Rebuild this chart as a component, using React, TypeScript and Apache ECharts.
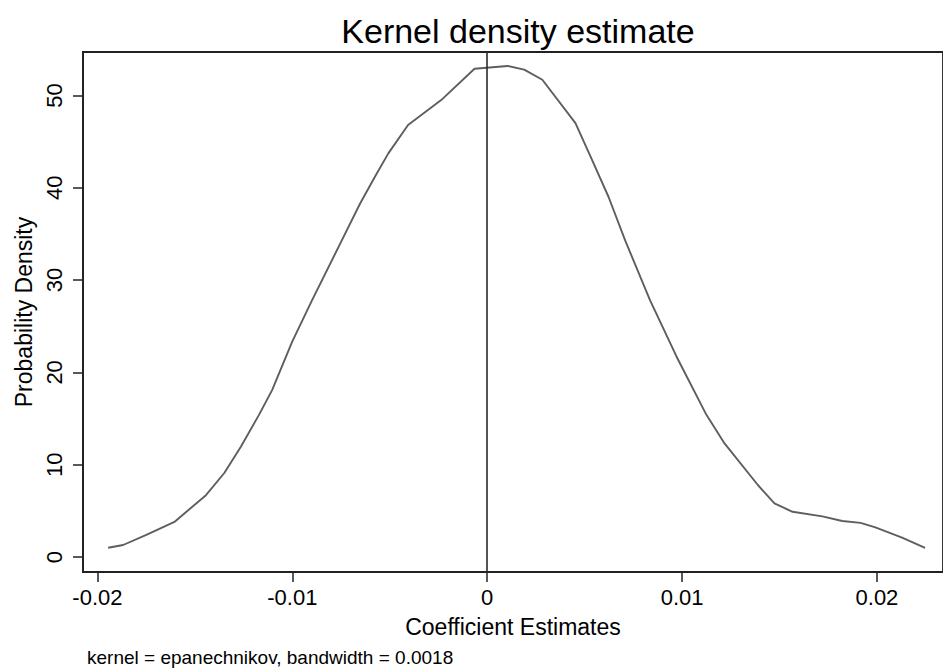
import React, { useEffect, useRef } from "react";
import * as echarts from "echarts";

const xValues = [
  -0.01945, -0.01868, -0.01749, -0.01605, -0.01443, -0.01349, -0.01264, -0.01171,
  -0.01103, -0.01001, -0.00899, -0.00746, -0.00652, -0.00576, -0.00508, -0.00406,
  -0.00236, -0.00065, 0.00105, 0.0019, 0.00283, 0.00453, 0.0053, 0.00623, 0.00708,
  0.00836, 0.00972, 0.01125, 0.01218, 0.01389, 0.01474, 0.01567, 0.0172, 0.01822,
  0.01916, 0.01992, 0.02129, 0.02247,
];
const densityValues = [
  1.0, 1.3, 2.4, 3.8, 6.7, 9.1, 11.95, 15.4,
  18.1, 23.3, 27.8, 34.3, 38.3, 41.2, 43.7, 46.8,
  49.5, 52.9, 53.2, 52.8, 51.7, 47.0, 43.4, 39.0, 34.3,
  27.8, 21.7, 15.4, 12.3, 7.8, 5.8, 4.9, 4.4, 3.9,
  3.7, 3.2, 2.1, 1.0,
];
const xTicks = [-0.02, -0.01, 0, 0.01, 0.02];
const yTicks = [0, 10, 20, 30, 40, 50];

const titleText = "Kernel density estimate";
const xName = "Coefficient Estimates";
const yName = "Probability Density";
const footnote = "kernel = epanechnikov, bandwidth = 0.0018";

const FONT = "'Liberation Sans', Arial, Helvetica, sans-serif";

export default function App() {
  const ref = useRef<HTMLDivElement>(null);
  useEffect(() => {
    if (!ref.current) return;
    const chart = echarts.init(ref.current, undefined, { renderer: "svg" });
    const points = xValues.map((x, i) => [x, densityValues[i]]);
    chart.setOption({
      animation: false,
      backgroundColor: "#ffffff",
      textStyle: { fontFamily: FONT },
      title: {
        text: titleText,
        left: 513,
        top: 9,
        textAlign: "center",
        textStyle: { fontFamily: FONT, fontSize: 34, fontWeight: "normal", color: "#000" },
      },
      graphic: [
        {
          type: "text",
          left: 87,
          top: 648,
          style: { text: footnote, fontFamily: FONT, fontSize: 19, fill: "#000" },
        },
      ],
      grid: {
        left: 83,
        top: 52,
        right: -5,
        bottom: 96,
        show: true,
        borderColor: "#222",
        borderWidth: 1.8,
        backgroundColor: "#fff",
      },
      xAxis: {
        type: "value",
        min: -0.02074,
        max: 0.02339,
        name: xName,
        nameLocation: "middle",
        nameGap: 43,
        nameTextStyle: { fontFamily: FONT, fontSize: 23, color: "#000" },
        axisLine: { show: true, onZero: false, lineStyle: { color: "#222", width: 1.8 } },
        axisTick: {
          show: true,
          length: 10,
          customValues: xTicks,
          lineStyle: { color: "#222", width: 1.5 },
        },
        axisLabel: {
          customValues: xTicks,
          margin: 14,
          fontFamily: FONT,
          fontSize: 22,
          color: "#000",
          formatter: (v: number) => (Math.abs(v) < 1e-9 ? "0" : String(Math.round(v * 100) / 100)),
        },
        splitLine: { show: false },
      },
      yAxis: {
        type: "value",
        min: -1.625,
        max: 54.71,
        name: yName,
        nameLocation: "middle",
        nameRotate: 90,
        nameGap: 44,
        nameTextStyle: { fontFamily: FONT, fontSize: 23, color: "#000" },
        axisLine: { show: true, onZero: false, lineStyle: { color: "#222", width: 1.8 } },
        axisTick: {
          show: true,
          length: 10,
          customValues: yTicks,
          lineStyle: { color: "#222", width: 1.5 },
        },
        axisLabel: {
          customValues: yTicks,
          rotate: 90,
          margin: 18,
          fontFamily: FONT,
          fontSize: 22,
          color: "#000",
        },
        splitLine: { show: false },
      },
      series: [
        {
          type: "line",
          data: points,
          showSymbol: false,
          symbol: "none",
          smooth: false,
          lineStyle: { color: "#5e5e5e", width: 1.9 },
          markLine: {
            silent: true,
            symbol: "none",
            label: { show: false },
            lineStyle: { color: "#2a2a2a", width: 1.6, type: "solid" },
            data: [{ xAxis: 0 }],
          },
        },
      ],
    });
    return () => chart.dispose();
  }, []);
  return (
    <div
      ref={ref}
      style={{ position: "fixed", left: 0, top: 0, width: 943, height: 668 }}
    />
  );
}
